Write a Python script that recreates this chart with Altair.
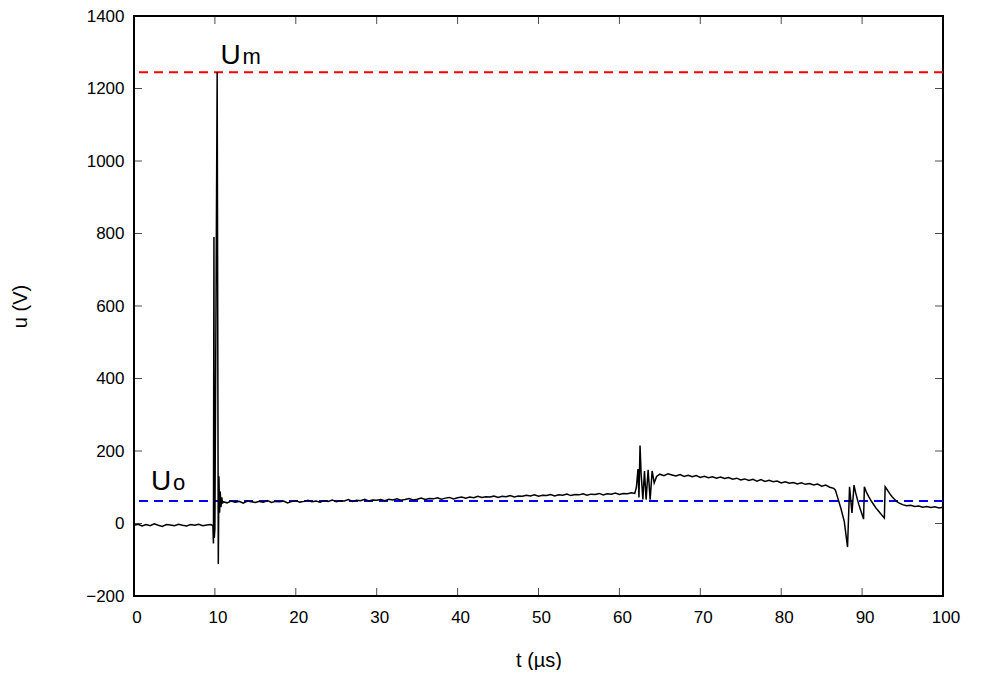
import altair as alt
import pandas as pd

# ---- data ----
t_pre = [0.0, 0.5, 1.0, 1.5, 2.0, 2.5, 3.0, 3.5, 4.0, 4.5, 5.0, 5.5, 6.0, 6.5, 7.0, 7.5, 8.0, 8.5, 9.0, 9.5, 9.75]
u_pre = [-5, -2, -7, -3, -6, -1, -5, -8, -3, -4, -6, -2, -5, -7, -3, -5, -2, -6, -4, -3, -6]

t_spike = [9.82, 9.88, 9.92, 10.0, 10.28, 10.42, 10.5, 10.58, 10.66, 10.75, 10.85, 10.95]
u_spike = [-55, 790, -40, -15, 1245, -112, 130, 30, 88, 45, 72, 55]

t_mid = [11.0 + 0.5 * k for k in range(102)]
u_mid = [60, 57, 62, 59, 61, 56, 62, 60, 58, 61,
         59, 63, 58, 61, 60, 62, 57, 61, 63, 59,
         61, 64, 60, 62, 59, 63, 61, 65, 60, 63,
         62, 66, 61, 64, 63, 67, 62, 65, 64, 66,
         63, 67, 65, 68, 64, 66, 69, 65, 67, 70,
         66, 69, 68, 71, 67, 70, 72, 68, 71, 73,
         70, 73, 71, 75, 72, 74, 73, 76, 72, 75,
         74, 77, 73, 76, 75, 78, 76, 79, 75, 78,
         77, 80, 76, 79, 78, 81, 77, 80, 79, 82,
         78, 81, 80, 83, 79, 82, 81, 84, 80, 83,
         82, 85]

t_ring = [61.9, 62.1, 62.3, 62.42, 62.55, 62.68, 62.9, 63.1, 63.3, 63.55, 63.8, 64.05, 64.3, 64.6]
u_ring = [83, 100, 150, 72, 215, 140, 66, 145, 66, 148, 66, 145, 112, 130]

t_plateau = [65.0 + 0.5 * k for k in range(44)]
u_plateau = [136, 132, 137, 134, 131, 135, 130, 133, 129, 132,
             127, 130, 126, 129, 125, 128, 124, 127, 122, 125,
             120, 123, 119, 122, 117, 121, 116, 119, 115, 117,
             112, 115, 111, 113, 109, 112, 108, 110, 106, 109,
             103, 106, 100, 97]

t_fall = [86.7, 87.0, 87.4, 87.8, 88.2, 88.45, 88.75, 89.0, 89.2, 89.4, 89.6, 89.8, 90.0, 90.18,
          90.28, 90.5, 90.8, 91.1, 91.4, 91.7, 92.0, 92.3, 92.6, 92.75,
          92.85, 93.1, 93.4, 93.7, 94.0, 94.3, 94.6]
u_fall = [92, 70, 40, 5, -65, 101, 29, 106, 85, 68, 52, 38, 25, 12,
          101, 88, 75, 63, 53, 43, 35, 27, 19, 15,
          101, 93, 83, 74, 67, 60, 56]

t_tail = [95.0 + 0.5 * k for k in range(11)]
u_tail = [52, 49, 50, 47, 48, 45, 47, 44, 46, 43, 45]

x_ticks = list(range(0, 101, 10))
y_ticks = list(range(-200, 1401, 200))

um_level = [1245]
uo_level = [62]

big_label = ["U", "U"]
big_t = [10.69, 2.1]
big_u = [1268, 93]
sub_label = ["m", "o"]

# ---- build tables ----
t_all = t_pre + t_spike + t_mid + t_ring + t_plateau + t_fall + t_tail
u_all = u_pre + u_spike + u_mid + u_ring + u_plateau + u_fall + u_tail
trace_df = pd.DataFrame({"t": t_all, "u": u_all, "i": list(range(len(t_all)))})
xt_df = pd.DataFrame({"t": x_ticks})
yt_df = pd.DataFrame({"u": y_ticks})
big_df = pd.DataFrame({"t": big_t, "u": big_u, "label": big_label})
sub_df = pd.DataFrame({"t": big_t, "u": big_u, "label": sub_label})

W, H = 809, 580
FONT = "Liberation Sans"

xs = alt.Scale(domain=[0, 100], nice=False, zero=False)
ys = alt.Scale(domain=[-200, 1400], nice=False, zero=False)

x_axis = alt.Axis(values=x_ticks, format="d", title="t (µs)", ticks=False, tickSize=0, domain=False, grid=False,
                  labelFontSize=17, labelFont=FONT, labelColor="black", labelPadding=13,
                  labelOffset=2.5, labelFlush=False, labelOverlap=False,
                  titleFont=FONT, titleFontSize=20, titleFontWeight="normal", titleColor="black",
                  titleY=64, titleBaseline="middle")
y_axis = alt.Axis(values=y_ticks, format="d", title="u (V)", ticks=False, tickSize=0, domain=False, grid=False,
                  labelFontSize=17, labelFont=FONT, labelColor="black", labelPadding=10,
                  labelFlush=False, labelOverlap=False,
                  titleFont=FONT, titleFontSize=20, titleFontWeight="normal", titleColor="black",
                  titleX=-114, titleY=H / 2, titleBaseline="middle", titleAlign="center", titleAngle=270)

trace = alt.Chart(trace_df).mark_line(color="black", strokeWidth=1.5).encode(
    x=alt.X("t:Q", scale=xs, axis=x_axis),
    y=alt.Y("u:Q", scale=ys, axis=y_axis),
    order="i:Q",
)

red_line = alt.Chart(pd.DataFrame({"u": um_level})).mark_rule(
    color="#ff0000", strokeWidth=2, strokeDash=[9, 6]).encode(y=alt.Y("u:Q", scale=ys))
blue_line = alt.Chart(pd.DataFrame({"u": uo_level})).mark_rule(
    color="#0000ff", strokeWidth=2, strokeDash=[9, 6]).encode(y=alt.Y("u:Q", scale=ys))

tick_style = dict(color="black", thickness=1, size=8)
xt_bottom = alt.Chart(xt_df).mark_tick(**tick_style).encode(
    x=alt.X("t:Q", scale=xs), y=alt.value(H - 4))
xt_top = alt.Chart(xt_df).mark_tick(**tick_style).encode(
    x=alt.X("t:Q", scale=xs), y=alt.value(4))
yt_left = alt.Chart(yt_df).mark_tick(**tick_style).encode(
    y=alt.Y("u:Q", scale=ys), x=alt.value(4))
yt_right = alt.Chart(yt_df).mark_tick(**tick_style).encode(
    y=alt.Y("u:Q", scale=ys), x=alt.value(W - 4))

big_text = alt.Chart(big_df).mark_text(
    align="left", baseline="alphabetic", fontSize=28, font=FONT, color="black").encode(
    x=alt.X("t:Q", scale=xs), y=alt.Y("u:Q", scale=ys), text="label:N")
sub_text = alt.Chart(sub_df).mark_text(
    align="left", baseline="alphabetic", fontSize=22, font=FONT, color="black", dx=22).encode(
    x=alt.X("t:Q", scale=xs), y=alt.Y("u:Q", scale=ys), text="label:N")

chart = alt.layer(
    red_line, blue_line, trace, xt_bottom, xt_top, yt_left, yt_right, big_text, sub_text
).properties(
    width=W, height=H,
    background="white",
    autosize=alt.AutoSizeParams(type="none"),
    padding={"left": 126, "top": 8, "right": 25, "bottom": 74},
).configure_view(
    stroke="black", strokeWidth=2
)

chart.save("out.html", embed_options={"renderer": "svg", "actions": False})
